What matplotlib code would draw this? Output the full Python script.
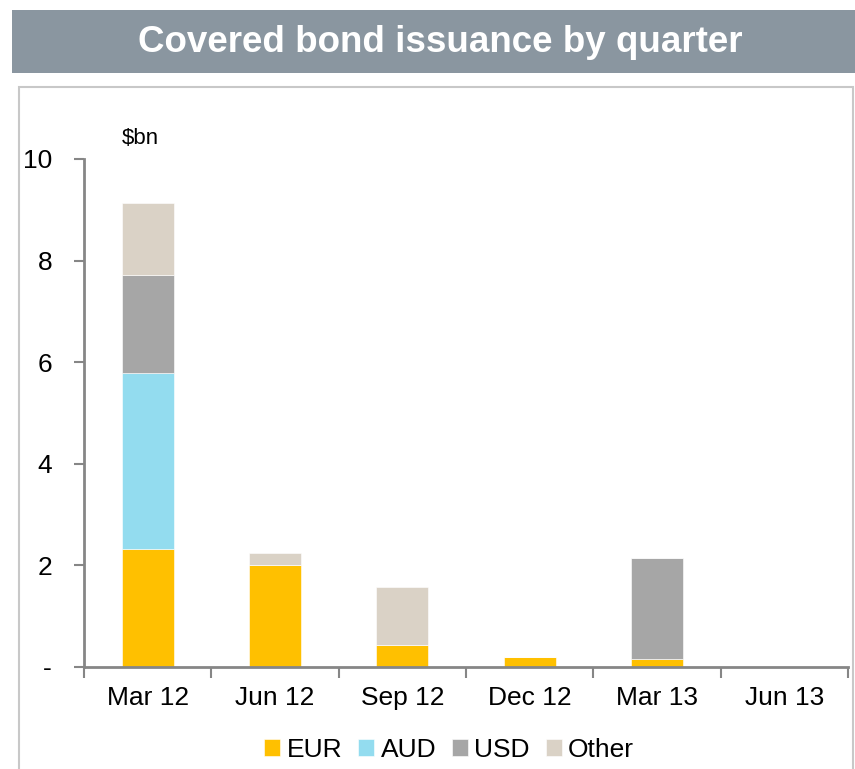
import numpy as np
import matplotlib.pyplot as plt
from matplotlib.patches import Rectangle

plt.rcParams['font.family'] = ['Liberation Sans', 'DejaVu Sans']

# Data ($bn)
quarters = ['Mar 12', 'Jun 12', 'Sep 12', 'Dec 12', 'Mar 13', 'Jun 13']
eur = [2.32, 2.01, 0.43, 0.20, 0.16, 0.0]
aud = [3.47, 0.0, 0.0, 0.0, 0.0, 0.0]
usd = [1.93, 0.0, 0.0, 0.0, 1.99, 0.0]
other = [1.41, 0.23, 1.14, 0.0, 0.0, 0.0]

series = [('EUR', eur, '#FFC000'), ('AUD', aud, '#93DCEF'),
          ('USD', usd, '#A6A6A6'), ('Other', other, '#DAD2C6')]

fig = plt.figure(figsize=(8.55, 7.69), dpi=100)

# title band
fig.patches.append(Rectangle((12/855, 1 - 73/769), 843/855, 63/769,
                             transform=fig.transFigure, facecolor='#8A96A0',
                             edgecolor='none'))
fig.text(440/855, 1 - 42/769, 'Covered bond issuance by quarter', color='white',
         fontsize=26.5, fontweight='bold', ha='center', va='center')
# chart frame
fig.patches.append(Rectangle((19/855, -0.05), 834/855, 1.05 - 87/769,
                             transform=fig.transFigure, facecolor='none',
                             edgecolor='#C8C8C8', linewidth=1.5))

ax = fig.add_axes([84/855, 1 - 667/769, 764/855, 508/769])
x = np.arange(len(quarters))
bottom = np.zeros(len(quarters))
for name, vals, col in series:
    ax.bar(x, vals, 0.41, bottom=bottom, color=col, label=name,
           edgecolor='white', linewidth=0.4)
    bottom += np.array(vals)

ax.set_xlim(-0.5, 5.5)
ax.set_ylim(0, 10)
for s in ['top', 'right']:
    ax.spines[s].set_visible(False)
for s in ['left', 'bottom']:
    ax.spines[s].set_color('#868686')
    ax.spines[s].set_linewidth(2)

ax.set_yticks([0, 2, 4, 6, 8, 10])
ax.set_yticklabels(['-', '2', '4', '6', '8', '10'])
ax.tick_params(axis='y', length=7, width=1.5, color='#868686', pad=16, labelsize=19)
ax.set_xticks(x)
ax.set_xticklabels(quarters)
ax.tick_params(axis='x', which='major', length=0, pad=14, labelsize=19)
ax.set_xticks(np.arange(-0.5, 6, 1), minor=True)
ax.tick_params(axis='x', which='minor', length=8, width=1.5, color='#868686')

ax.text(-0.2, 10.2, '$bn', fontsize=16, ha='left', va='bottom')

ax.legend(loc='center', bbox_to_anchor=(0.478, -0.163), ncol=4, frameon=False,
          fontsize=19, handlelength=0.6, handleheight=0.6, handletextpad=0.25,
          columnspacing=0.6)

fig.savefig('out.png', dpi=100)
